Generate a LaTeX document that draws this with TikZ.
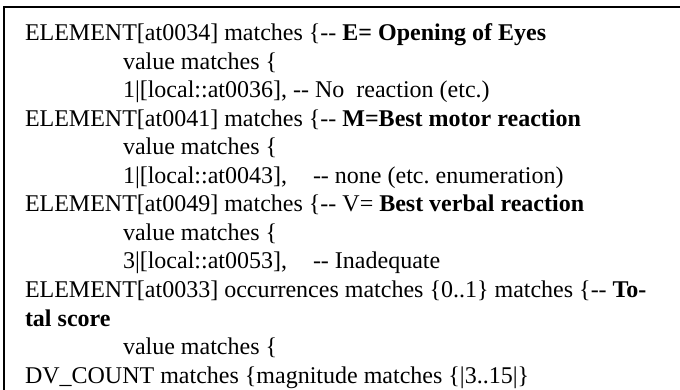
\documentclass[tikz,border=0pt]{standalone}
\usepackage{fontspec}
\setmainfont{Liberation Serif}
\frenchspacing
\begin{document}
\begin{tikzpicture}[x=1pt,y=-1pt,
  txt/.style={anchor=base west,inner sep=0pt,outer sep=0pt,font=\fontsize{24}{28.5}\selectfont},
  frameline/.style={draw=black,line width=1.6pt}]
\useasboundingbox (0,0) rectangle (680,390);
\draw[frameline] (4,390) -- (4,7) -- (680,7);
\node[txt] (l1) at (25,41) {ELEMENT[at0034] matches \{-{}- \textbf{E= Opening of Eyes}};
\node[txt] (l2) at (123,69.5) {value matches \{};
\node[txt] (l3) at (123,98) {1|[local::at0036], -{}- No\ \ reaction (etc.)};
\node[txt] (l4) at (25,126.5) {ELEMENT[at0041] matches \{-{}- \textbf{M=Best motor reaction}};
\node[txt] (l5) at (123,155) {value matches \{};
\node[txt] (l6a) at (123,183.5) {1|[local::at0043],};
\node[txt] (l6b) at (313,183.5) {-{}- none (etc. enumeration)};
\node[txt] (l7) at (25,212) {ELEMENT[at0049] matches \{-{}- V= \textbf{Best verbal reaction}};
\node[txt] (l8) at (123,240.5) {value matches \{};
\node[txt] (l9a) at (123,269) {3|[local::at0053],};
\node[txt] (l9b) at (313,269) {-{}- Inadequate};
\node[txt] (l10) at (25,297.5) {ELEMENT[at0033] occurrences matches \{0..1\} matches \{-{}- \textbf{To-}};
\node[txt] (l11) at (25,326) {\textbf{tal score}};
\node[txt] (l12) at (123,354.5) {value matches \{};
\node[txt] (l13) at (25,383) {DV\_COUNT matches \{magnitude matches \{|3..15|\}};
\end{tikzpicture}
\end{document}
